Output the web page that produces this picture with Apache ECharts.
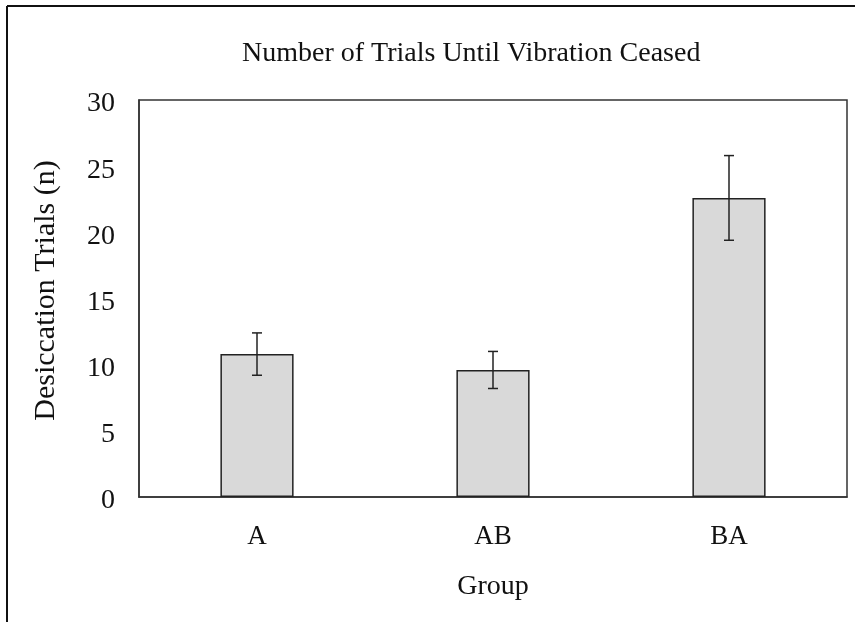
<!DOCTYPE html>
<html>
<head>
<meta charset="utf-8">
<script src="https://cdn.jsdelivr.net/npm/echarts@6/dist/echarts.min.js"></script>
<style>
html,body{margin:0;padding:0;background:#fff;}
#chart{width:855px;height:622px;}
</style>
</head>
<body>
<div id="chart"></div>
<script>
var categories = ['A', 'AB', 'BA'];
var means = [10.8, 9.6, 22.6];
var errors = [1.6, 1.4, 3.2];
var yTicks = [0, 5, 10, 15, 20, 25, 30];

var FONT = '"Liberation Serif", "Times New Roman", serif';
var chart = echarts.init(document.getElementById('chart'));

var errData = categories.map(function (c, i) {
  return [i, means[i] - errors[i], means[i] + errors[i]];
});

chart.setOption({
  animation: false,
  backgroundColor: '#fff',
  title: {
    text: 'Number of Trials Until Vibration Ceased',
    left: 237,
    top: 35,
    textStyle: { fontFamily: FONT, fontSize: 28, fontWeight: 'normal', color: '#111' }
  },
  graphic: [
    { type: 'line', shape: { x1: 7, y1: 6, x2: 855, y2: 6 }, style: { stroke: '#111', lineWidth: 2 } },
    { type: 'line', shape: { x1: 7, y1: 6, x2: 7, y2: 622 }, style: { stroke: '#111', lineWidth: 2 } }
  ],
  grid: {
    left: 139, right: 8, top: 100, bottom: 125,
    show: true, borderColor: '#333', borderWidth: 1.5, backgroundColor: 'transparent'
  },
  xAxis: {
    type: 'category',
    data: categories,
    name: 'Group',
    nameLocation: 'middle',
    nameGap: 76,
    nameTextStyle: { fontFamily: FONT, fontSize: 28, color: '#111' },
    axisLine: { lineStyle: { color: '#333', width: 1.5 } },
    axisTick: { show: false },
    axisLabel: { fontFamily: FONT, fontSize: 27, color: '#111', margin: 26 }
  },
  yAxis: {
    type: 'value',
    min: 0, max: 30, interval: 5,
    name: 'Desiccation Trials (n)',
    nameLocation: 'middle',
    nameGap: 78,
    nameTextStyle: { fontFamily: FONT, fontSize: 30, color: '#111', padding: [0, 0, 0, 16] },
    axisLine: { show: true, lineStyle: { color: '#333', width: 1.5 } },
    axisTick: { show: false },
    splitLine: { show: false },
    axisLabel: {
      margin: 24,
      formatter: function (v) { return yTicks.indexOf(v) >= 0 ? '{t|' + v + '}' : ''; },
      rich: {
        t: { fontFamily: FONT, fontSize: 28, color: '#111', padding: [8, 0, 0, 0] }
      }
    }
  },
  series: [
    {
      type: 'bar',
      data: means,
      barWidth: '31%',
      itemStyle: { color: '#d9d9d9', borderColor: '#222', borderWidth: 1.5 }
    },
    {
      type: 'custom',
      data: errData,
      z: 10,
      renderItem: function (params, api) {
        var x = api.value(0);
        var lo = api.coord([x, api.value(1)]);
        var hi = api.coord([x, api.value(2)]);
        var hw = 5;
        var st = { stroke: '#222', lineWidth: 1.5 };
        return {
          type: 'group',
          children: [
            { type: 'line', shape: { x1: hi[0], y1: hi[1], x2: lo[0], y2: lo[1] }, style: st },
            { type: 'line', shape: { x1: hi[0] - hw, y1: hi[1], x2: hi[0] + hw, y2: hi[1] }, style: st },
            { type: 'line', shape: { x1: lo[0] - hw, y1: lo[1], x2: lo[0] + hw, y2: lo[1] }, style: st }
          ]
        };
      }
    }
  ]
});
</script>
</body>
</html>
